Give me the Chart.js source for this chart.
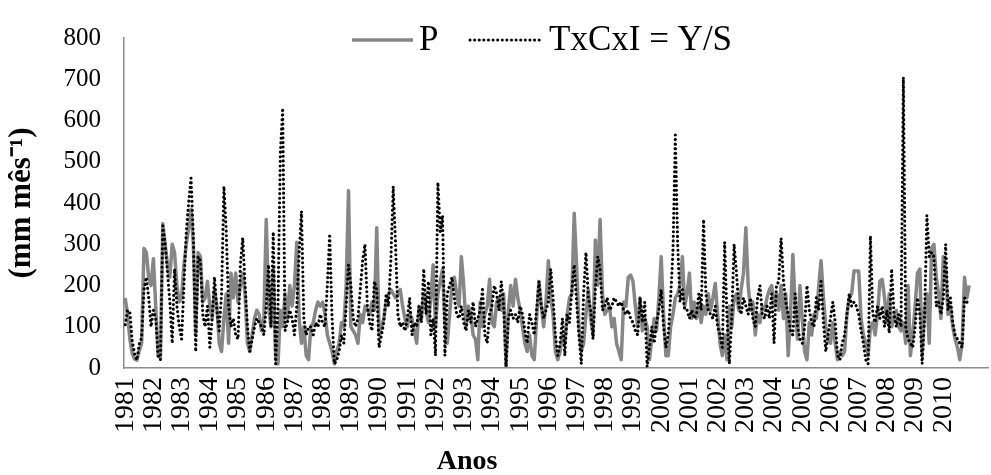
<!DOCTYPE html>
<html>
<head>
<meta charset="utf-8">
<script src="https://cdn.jsdelivr.net/npm/chart.js@4"></script>
<style>
  html, body { margin: 0; padding: 0; background: #fff; }
  canvas { display: block; }
</style>
</head>
<body>
<canvas id="chart" width="991" height="475"></canvas>
<script>
const years = ['1981','1982','1983','1984','1985','1986','1987','1988','1989','1990',
  '1991','1992','1993','1994','1995','1996','1997','1998','1999','2000',
  '2001','2002','2003','2004','2005','2006','2007','2008','2009','2010'];

// monthly P (mm/month), one row per year
const precip = [
  170, 130, 70, 35, 22, 19, 42, 60, 290, 280, 220, 200,
  265, 150, 30, 25, 350, 300, 250, 220, 300, 280, 200, 160,
  170, 250, 300, 340, 385, 300, 80, 280, 270, 160, 170, 210,
  150, 120, 190, 150, 60, 40, 120, 180, 60, 230, 170, 230,
  160, 200, 230, 180, 60, 40, 80, 120, 140, 130, 90, 120,
  360, 150, 100, 240, 20, 10, 140, 100, 180, 120, 200, 150,
  200, 305, 120, 60, 100, 30, 20, 100, 110, 140, 160, 150,
  160, 130, 80, 60, 40, 10, 40, 60, 110, 100, 200, 430,
  100, 90, 80, 60, 130, 110, 150, 140, 130, 160, 140, 340,
  80, 100, 120, 160, 180, 190, 180, 170, 180, 190, 150, 120,
  100, 130, 120, 90, 60, 150, 120, 180, 140, 110, 170, 250,
  100, 180, 210, 240, 110, 60, 130, 200, 220, 180, 150, 270,
  200, 100, 150, 130, 80, 70, 20, 160, 100, 130, 150, 215,
  110, 100, 160, 170, 140, 180, 5, 140, 200, 150, 215, 170,
  140, 100, 60, 40, 80, 30, 20, 120, 210, 150, 100, 160,
  260, 170, 130, 40, 20, 40, 80, 60, 130, 170, 180, 375,
  250, 100, 40, 60, 130, 190, 120, 80, 310, 200, 360, 180,
  130, 140, 150, 100, 120, 60, 40, 20, 160, 150, 220, 225,
  210, 150, 100, 170, 90, 120, 100, 20, 70, 120, 90, 170,
  270, 130, 30, 30, 100, 130, 170, 180, 200, 270, 150, 180,
  230, 120, 160, 120, 150, 110, 150, 130, 180, 140, 170, 205,
  130, 60, 30, 80, 20, 150, 100, 170, 180, 140, 190, 230,
  340, 200, 140, 160, 80, 130, 110, 150, 140, 170, 190, 200,
  150, 180, 140, 200, 120, 180, 30, 130, 275, 150, 70, 200,
  120, 40, 20, 110, 80, 130, 120, 200, 260, 170, 100, 70,
  60, 110, 60, 20, 40, 30, 40, 130, 170, 180, 235, 235,
  235, 120, 80, 60, 30, 100, 110, 80, 130, 210, 215, 170,
  110, 180, 100, 120, 140, 100, 90, 110, 60, 200, 30, 80,
  150, 230, 240, 30, 140, 180, 60, 290, 300, 220, 180, 120,
  270, 240, 130, 150, 100, 70, 50, 20, 60, 220, 170, 200
];

// monthly TxCxI = Y/S
const txcxi = [
  105, 140, 135, 65, 34, 19, 58, 73, 190, 220, 170, 100,
  140, 120, 30, 20, 345, 300, 230, 160, 60, 240, 150, 100,
  70, 200, 330, 400, 460, 320, 40, 270, 260, 130, 100, 150,
  50, 120, 220, 140, 90, 180, 440, 330, 150, 100, 120, 80,
  70, 250, 315, 200, 100, 40, 70, 100, 120, 110, 100, 80,
  150, 250, 100, 330, 10, 150, 520, 630, 90, 110, 140, 120,
  80, 150, 280, 380, 120, 80, 100, 100, 80, 110, 100, 130,
  110, 100, 200, 325, 120, 10, 20, 40, 80, 60, 150, 250,
  200, 120, 100, 120, 190, 260, 300, 150, 110, 90, 210, 190,
  50, 80, 110, 180, 150, 260, 440, 300, 130, 100, 110, 90,
  120, 170, 80, 110, 100, 150, 110, 240, 130, 210, 80, 120,
  30, 450, 330, 370, 30, 180, 200, 220, 170, 130, 120, 150,
  110, 90, 140, 110, 160, 100, 120, 140, 190, 80, 60, 130,
  150, 200, 180, 140, 210, 150, 3, 120, 140, 120, 130, 110,
  150, 130, 90, 60, 130, 110, 80, 140, 210, 150, 120, 140,
  160, 240, 170, 80, 30, 60, 120, 30, 130, 110, 190, 250,
  160, 80, 10, 180, 280, 170, 140, 70, 190, 270, 240, 140,
  150, 170, 140, 150, 170, 160, 150, 160, 140, 130, 140, 120,
  110, 90, 80, 170, 110, 160, 3, 50, 100, 60, 110, 140,
  190, 100, 50, 80, 170, 280, 565, 300, 160, 190, 140, 140,
  120, 140, 120, 130, 180, 140, 360, 180, 140, 130, 120, 150,
  100, 80, 50, 305, 120, 10, 120, 300, 230, 150, 130, 170,
  150, 130, 170, 120, 100, 170, 200, 130, 120, 150, 120, 180,
  60, 200, 210, 315, 210, 160, 130, 90, 80, 180, 100, 70,
  60, 100, 200, 140, 110, 100, 170, 140, 210, 110, 40, 80,
  120, 160, 110, 30, 20, 60, 80, 130, 180, 150, 160, 150,
  130, 90, 60, 20, 10, 320, 130, 110, 150, 120, 150, 100,
  140, 85, 240, 130, 100, 130, 100, 705, 100, 70, 60, 50,
  100, 170, 130, 10, 120, 370, 270, 280, 270, 150, 160, 130,
  170, 300, 140, 170, 110, 80, 70, 60, 50, 170, 160, 150
];

const FONT = "'Liberation Serif', 'Times New Roman', serif";
const AXIS_GRAY = '#8c8c8c';

// legend and x title drawn by hand, placed like the original
const inlineLegend = {
  id: 'inlineLegend',
  afterDraw(chart) {
    const ctx = chart.ctx;
    const spots = [
      { ds: chart.data.datasets[0], x1: 352, x2: 413, tx: 419 },
      { ds: chart.data.datasets[1], x1: 470, x2: 541, tx: 549 }
    ];
    const y = 40;
    ctx.save();
    spots.forEach(s => {
      ctx.beginPath();
      ctx.strokeStyle = s.ds.borderColor;
      ctx.lineWidth = s.ds.borderWidth;
      ctx.lineCap = s.ds.borderCapStyle || 'butt';
      ctx.setLineDash(s.ds.borderDash || []);
      ctx.moveTo(s.x1, y);
      ctx.lineTo(s.x2, y);
      ctx.stroke();
      ctx.setLineDash([]);
      ctx.fillStyle = '#000';
      ctx.font = '35px ' + FONT;
      ctx.textBaseline = 'middle';
      ctx.textAlign = 'left';
      ctx.fillText(s.ds.label, s.tx, y + 1);
    });
    ctx.font = 'bold 28px ' + FONT;
    ctx.textAlign = 'center';
    ctx.textBaseline = 'middle';
    ctx.fillText('Anos', 467, 462);
    ctx.restore();
  }
};

new Chart(document.getElementById('chart'), {
  type: 'line',
  data: {
    datasets: [
      {
        label: 'P',
        data: precip.map((v, i) => ({ x: i, y: v })),
        borderColor: '#868686',
        borderWidth: 3.5,
        borderJoinStyle: 'round',
        pointRadius: 0,
        tension: 0,
        order: 2
      },
      {
        label: 'TxCxI = Y/S',
        data: txcxi.map((v, i) => ({ x: i, y: v })),
        borderColor: '#000',
        borderWidth: 3.1,
        borderDash: [0.01, 4.6],
        borderCapStyle: 'round',
        pointRadius: 0,
        tension: 0,
        order: 1
      }
    ]
  },
  options: {
    responsive: false,
    animation: false,
    devicePixelRatio: 1,
    layout: { padding: { top: 25, right: 3, left: 0, bottom: 0 } },
    plugins: {
      legend: { display: false },
      tooltip: { enabled: false }
    },
    scales: {
      x: {
        type: 'linear',
        min: -0.5,
        max: 367,
        afterBuildTicks: scale => {
          scale.ticks = years.map((_, k) => ({ value: k * 12 }));
        },
        afterFit: scale => { scale.height = 107; },
        grid: { display: false, drawTicks: false },
        border: { display: true, color: AXIS_GRAY, width: 1.5 },
        ticks: {
          autoSkip: false,
          minRotation: 90,
          maxRotation: 90,
          padding: 9,
          color: '#000',
          font: { family: FONT, size: 28 },
          callback: v => years[Math.round(v / 12)]
        }
      },
      y: {
        min: 0,
        max: 800,
        afterFit: scale => { scale.width = 124; },
        grid: { display: false, drawTicks: false },
        border: { display: true, color: AXIS_GRAY, width: 1.5 },
        ticks: {
          stepSize: 100,
          padding: 23,
          color: '#000',
          font: { family: FONT, size: 25 }
        },
        title: {
          display: true,
          text: '(mm mês⁻¹)',
          color: '#000',
          font: { family: FONT, size: 31, weight: 'bold', lineHeight: 1 },
          padding: { top: 6, bottom: 0 }
        }
      }
    }
  },
  plugins: [inlineLegend]
});
</script>
</body>
</html>
